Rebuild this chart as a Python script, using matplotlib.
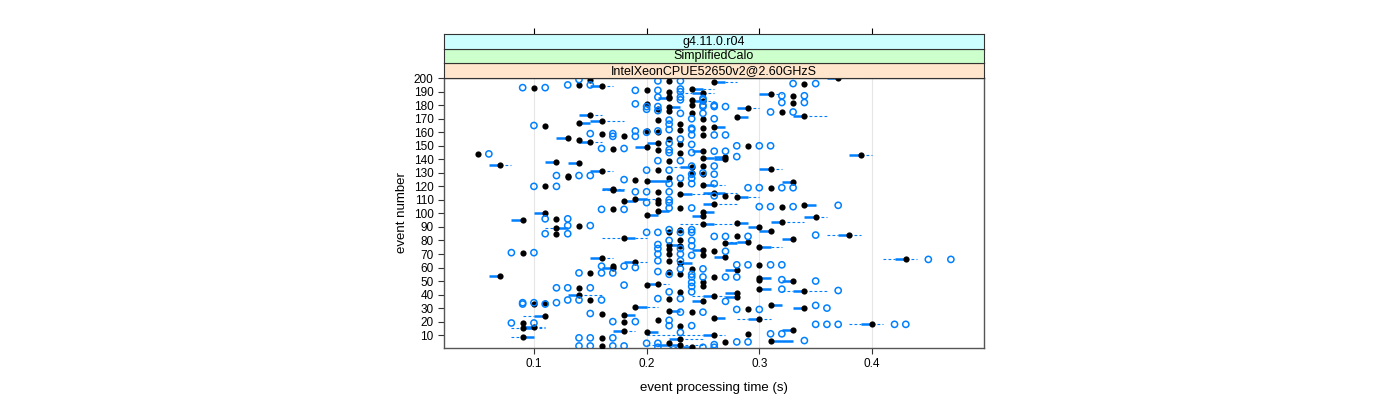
import matplotlib.pyplot as plt
import numpy as np

plt.rcParams['font.family'] = ['Liberation Sans', 'DejaVu Sans']

# one row per event (1..200): median, box (q1, q3), whisker ends, outliers
events = np.arange(1, 201)

med = [.24, .16, .23, .22, .27, .31, .23, .16, .09, .26,
       .29, .20, .18, .33, .09, .10, .23, .40, .09, .18,
       .21, .30, .26, .11, .18, .16, .24, .22, .29, .34,
       .19, .31, .10, .11, .25, .15, .22, .28, .26, .14,
       .28, .23, .34, .30, .14, .25, .20, .21, .25, .33,
       .30, .30, .26, .07, .23, .15, .22, .28, .24, .17,
       .17, .30, .23, .19, .22, .43, .16, .27, .25, .22,
       .09, .26, .25, .22, .30, .23, .22, .27, .29, .23,
       .33, .18, .28, .38, .12, .22, .31, .23, .12, .30,
       .14, .25, .28, .32, .09, .12, .35, .25, .20, .11,
       .25, .21, .17, .23, .32, .34, .26, .21, .18, .21,
       .19, .28, .27, .23, .26, .21, .17, .17, .31, .11,
       .25, .23, .33, .20, .19, .22, .13, .13, .25, .24,
       .16, .21, .31, .24, .25, .07, .14, .12, .22, .27,
       .25, .27, .39, .05, .23, .25, .21, .17, .20, .29,
       .23, .21, .15, .14, .22, .13, .18, .25, .16, .21,
       .20, .23, .25, .26, .11, .23, .14, .16, .21, .25,
       .28, .34, .15, .24, .32, .22, .21, .29, .22, .24,
       .20, .33, .25, .24, .22, .22, .33, .31, .25, .22,
       .20, .24, .10, .16, .14, .34, .26, .22, .15, .37]

q1 = [.23, .16, .21, .22, .27, .31, .22, .16, .09, .25,
      .29, .20, .17, .32, .09, .09, .23, .39, .09, .18,
      .21, .29, .26, .10, .18, .16, .24, .22, .29, .33,
      .19, .31, .10, .11, .24, .15, .22, .27, .25, .13,
      .27, .23, .33, .30, .14, .25, .20, .20, .25, .32,
      .30, .30, .26, .06, .23, .15, .22, .27, .24, .16,
      .17, .30, .23, .18, .22, .42, .15, .26, .25, .22,
      .09, .26, .24, .22, .30, .23, .22, .27, .28, .23,
      .32, .18, .28, .37, .12, .22, .30, .23, .12, .29,
      .14, .25, .28, .31, .08, .12, .34, .24, .20, .10,
      .25, .21, .17, .23, .32, .34, .25, .21, .18, .21,
      .19, .28, .27, .23, .25, .21, .17, .16, .31, .11,
      .25, .23, .32, .20, .19, .22, .13, .13, .25, .24,
      .15, .21, .30, .23, .25, .06, .13, .11, .22, .26,
      .25, .26, .38, .05, .23, .24, .21, .17, .19, .29,
      .23, .20, .14, .14, .22, .12, .18, .25, .16, .21,
      .20, .23, .25, .26, .11, .23, .14, .15, .21, .25,
      .28, .33, .14, .24, .32, .22, .21, .28, .22, .24,
      .20, .33, .24, .24, .21, .22, .33, .30, .24, .22,
      .20, .24, .10, .15, .14, .34, .26, .22, .15, .36]

q3 = [.24, .16, .23, .22, .27, .33, .23, .16, .10, .26,
      .29, .21, .18, .33, .10, .10, .23, .40, .09, .18,
      .21, .30, .27, .11, .19, .16, .24, .23, .29, .34,
      .20, .32, .10, .11, .25, .15, .22, .28, .26, .14,
      .28, .23, .34, .31, .14, .25, .20, .21, .25, .33,
      .30, .31, .26, .07, .23, .15, .22, .28, .24, .17,
      .17, .30, .24, .19, .22, .43, .16, .27, .25, .22,
      .09, .26, .25, .22, .31, .23, .23, .28, .29, .23,
      .33, .19, .28, .38, .12, .22, .31, .23, .13, .30,
      .14, .26, .29, .32, .09, .12, .35, .25, .21, .11,
      .26, .22, .17, .23, .32, .35, .26, .21, .19, .21,
      .20, .29, .27, .24, .27, .21, .18, .17, .31, .11,
      .26, .23, .33, .22, .19, .22, .13, .13, .25, .24,
      .16, .21, .31, .24, .25, .07, .14, .12, .22, .27,
      .26, .27, .39, .05, .23, .25, .21, .17, .20, .29,
      .23, .21, .15, .14, .22, .13, .18, .25, .16, .21,
      .20, .23, .25, .27, .11, .23, .15, .16, .21, .25,
      .29, .34, .15, .24, .32, .22, .21, .29, .23, .24,
      .20, .33, .25, .24, .22, .22, .33, .31, .25, .22,
      .20, .25, .10, .16, .14, .34, .27, .22, .15, .37]

whisk_lo = [.22, .16, .20, .22, .27, .31, .22, .16, .08, .20,
            .29, .20, .17, .32, .08, .09, .23, .38, .09, .18,
            .21, .28, .26, .09, .18, .16, .24, .22, .29, .33,
            .19, .31, .10, .11, .24, .15, .22, .27, .24, .13,
            .27, .23, .32, .30, .14, .25, .20, .20, .25, .32,
            .30, .30, .26, .06, .23, .15, .22, .27, .24, .16,
            .17, .30, .23, .18, .22, .41, .15, .26, .25, .22,
            .09, .26, .24, .22, .30, .23, .22, .27, .27, .23,
            .32, .16, .28, .36, .12, .22, .30, .23, .11, .29,
            .14, .23, .28, .31, .08, .12, .34, .24, .20, .10,
            .25, .21, .17, .23, .32, .34, .25, .21, .18, .21,
            .19, .28, .27, .23, .25, .21, .16, .16, .31, .11,
            .25, .23, .32, .20, .19, .22, .13, .13, .25, .24,
            .15, .21, .30, .22, .25, .06, .13, .11, .22, .26,
            .25, .26, .38, .05, .23, .24, .21, .17, .19, .29,
            .23, .20, .14, .14, .22, .12, .18, .25, .16, .21,
            .20, .23, .25, .26, .11, .23, .14, .15, .21, .25,
            .28, .33, .14, .24, .32, .22, .21, .28, .22, .24,
            .20, .33, .24, .24, .21, .22, .33, .30, .23, .22,
            .20, .24, .10, .15, .14, .34, .26, .22, .15, .36]

whisk_hi = [.24, .16, .25, .22, .27, .33, .25, .16, .10, .27,
            .29, .21, .19, .33, .11, .11, .23, .41, .09, .18,
            .21, .31, .27, .11, .19, .16, .24, .23, .29, .34,
            .21, .32, .10, .11, .25, .15, .22, .28, .27, .16,
            .28, .23, .36, .31, .14, .25, .20, .22, .25, .33,
            .30, .31, .26, .07, .23, .15, .22, .28, .24, .17,
            .17, .30, .24, .20, .22, .44, .17, .27, .25, .22,
            .09, .26, .25, .22, .32, .23, .23, .28, .29, .23,
            .33, .20, .28, .39, .12, .22, .31, .23, .13, .30,
            .14, .28, .29, .34, .09, .12, .36, .25, .21, .11,
            .26, .22, .17, .23, .32, .35, .28, .21, .19, .21,
            .21, .30, .27, .27, .28, .21, .18, .18, .31, .11,
            .27, .23, .33, .22, .19, .22, .13, .13, .25, .24,
            .17, .21, .32, .24, .25, .08, .14, .12, .22, .27,
            .27, .27, .40, .05, .23, .25, .21, .17, .20, .29,
            .23, .21, .16, .14, .22, .13, .18, .25, .16, .21,
            .20, .23, .25, .27, .11, .23, .15, .18, .21, .25,
            .29, .36, .16, .24, .32, .22, .21, .30, .23, .24,
            .20, .33, .26, .24, .22, .22, .33, .32, .26, .22,
            .20, .26, .10, .17, .14, .34, .28, .22, .15, .37]

outliers = {
    1: [.21, .25, .26], 2: [.14, .15, .17, .18], 3: [.26], 4: [.20, .21],
    5: [.28, .29], 6: [.34], 8: [.14, .15, .17], 11: [.31, .32], 12: [.23],
    17: [.22, .24], 18: [.35, .36, .37, .42, .43], 19: [.08, .10],
    20: [.17, .19], 21: [.22], 26: [.15], 27: [.23, .25], 29: [.28, .30],
    30: [.36], 32: [.35], 33: [.09, .11], 34: [.09, .10, .12], 35: [.27],
    36: [.13, .14, .16], 37: [.21, .23], 42: [.22, .24], 43: [.37],
    44: [.32], 45: [.12, .13, .15], 46: [.24], 47: [.18], 49: [.24],
    50: [.35], 51: [.32], 53: [.24, .25, .27, .28], 55: [.22, .24],
    56: [.14, .16, .17], 57: [.21], 59: [.23, .25], 60: [.19],
    61: [.16, .18], 62: [.28, .29, .31, .32], 65: [.21, .23],
    66: [.45, .47], 69: [.24], 70: [.21, .23], 71: [.08, .10], 72: [.27],
    74: [.21, .23], 76: [.24], 77: [.21], 80: [.22, .24],
    83: [.26, .27, .29], 84: [.35], 85: [.11, .13], 86: [.20, .21, .23, .24],
    88: [.22, .24], 91: [.13, .15], 96: [.11, .13], 103: [.16, .18],
    104: [.22, .24], 105: [.30, .31, .33], 106: [.37], 108: [.20, .22],
    110: [.22], 113: [.26], 116: [.19, .20, .22], 119: [.29, .30, .32, .33],
    120: [.10, .12], 122: [.22, .24, .26], 125: [.18], 126: [.23, .24],
    128: [.12, .14, .15], 129: [.24, .26], 130: [.25], 132: [.20, .22],
    135: [.24, .26], 139: [.21, .23], 142: [.28], 144: [.06],
    145: [.22, .24], 146: [.26, .27], 147: [.22], 148: [.16, .18],
    150: [.28, .30, .31], 151: [.24], 152: [.22], 155: [.23],
    157: [.17, .19], 158: [.24, .26, .27], 159: [.15, .17], 160: [.20],
    161: [.19, .21], 162: [.22, .24], 163: [.24], 165: [.10], 166: [.22],
    169: [.22], 170: [.24, .26], 174: [.23, .25], 175: [.31, .33],
    176: [.21], 177: [.20], 179: [.20, .21, .25, .26, .27], 180: [.25, .26],
    181: [.19], 182: [.32, .34], 184: [.23, .25], 185: [.25],
    186: [.21, .23], 187: [.32, .34], 190: [.23], 191: [.19, .21],
    192: [.23], 193: [.09, .11], 195: [.13, .15], 196: [.33, .35],
    198: [.21, .23], 199: [.14],
}

strips = ['g4.11.0.r04', 'SimplifiedCalo', 'IntelXeonCPUE52650v2@2.60GHzS']
strip_colors = ['#CCFFFF', '#CCFFCC', '#FFE5CC']

blue = '#0080FF'

fig = plt.figure(figsize=(14, 4), dpi=100)
ax = fig.add_axes([444 / 1400, 1 - 348 / 400, 540 / 1400, 270.5 / 400])

# whiskers, boxes, medians, outliers
ax.hlines(events, whisk_lo, q1, color=blue, lw=0.8, linestyles=(0, (2.5, 2)))
ax.hlines(events, q3, whisk_hi, color=blue, lw=0.8, linestyles=(0, (2.5, 2)))
ax.hlines(events, q1, q3, color=blue, lw=1.8)
ax.scatter(med, events, s=20, color='black', zorder=3, linewidths=0)
ox = [v for e in outliers for v in outliers[e]]
oy = [e for e in outliers for v in outliers[e]]
ax.scatter(ox, oy, s=20, facecolors='none', edgecolors=blue, linewidths=1.1, zorder=4)

ax.set_xlim(0.0202, 0.4994)
ax.set_ylim(0.5, 200.5)
ax.set_xticks([0.1, 0.2, 0.3, 0.4])
ax.set_xticklabels(['0.1', '0.2', '0.3', '0.4'])
ax.set_yticks(np.arange(10, 201, 10))
for x in [0.1, 0.2, 0.3, 0.4]:
    ax.axvline(x, color='#E6E6E6', lw=0.8, zorder=0)
ax.tick_params(direction='out', length=4, width=0.8, labelsize=8.5,
               color='#333333', labelcolor='black')
for sp in ax.spines.values():
    sp.set_color('#555555')
    sp.set_linewidth(1)
ax.set_xlabel('event processing time (s)', fontsize=9.5, labelpad=8)
ax.set_ylabel('event number', fontsize=9.5, labelpad=4)

# strips on top of the panel
top = 1 - 77.5 / 400
h = 14.5 / 400
for i, (txt, col) in enumerate(zip(strips[::-1], strip_colors[::-1])):
    sax = fig.add_axes([444 / 1400, top + i * h, 540 / 1400, h], sharex=ax)
    sax.set_facecolor(col)
    sax.set_yticks([])
    sax.text(0.5, 0.45, txt, transform=sax.transAxes, ha='center', va='center', fontsize=9)
    for sp in sax.spines.values():
        sp.set_color('#333333')
        sp.set_linewidth(0.8)
    if i == 2:
        sax.tick_params(axis='x', bottom=False, labelbottom=False, top=True,
                        labeltop=False, direction='out', length=4, width=0.8)
    else:
        sax.tick_params(axis='x', bottom=False, labelbottom=False)

plt.savefig('out.png', dpi=100)
